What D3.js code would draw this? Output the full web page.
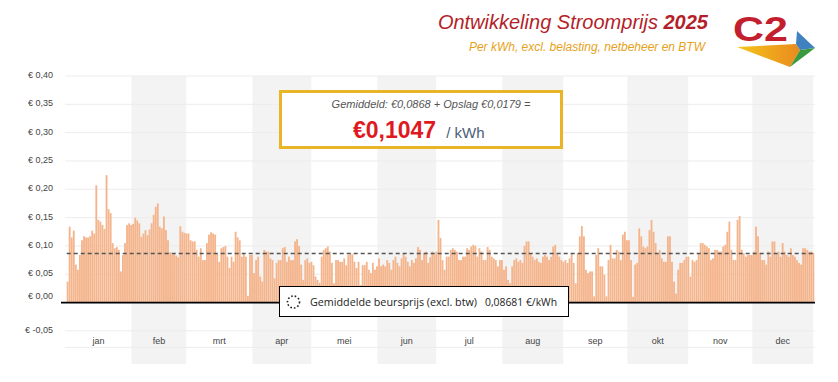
<!DOCTYPE html>
<html>
<head>
<meta charset="utf-8">
<script src="https://cdn.jsdelivr.net/npm/d3@7"></script>
<style>
  body { margin: 0; background: #fff; }
  svg { display: block; font-family: "Liberation Sans", Arial, sans-serif; }
</style>
</head>
<body>
<svg id="chart" width="838" height="382"></svg>
<script>
// *************** DATA (daily price, €/kWh) ***************
const jan = [0.037,0.134,0.115,0.127,0.067,0.058,0.084,0.110,0.117,0.115,0.115,0.117,0.127,0.122,0.207,0.146,0.143,0.137,0.130,0.225,0.165,0.158,0.105,0.096,0.098,0.093,0.055,0.084,0.105,0.137,0.140];
const feb = [0.137,0.139,0.150,0.145,0.140,0.116,0.122,0.128,0.119,0.129,0.140,0.155,0.169,0.175,0.134,0.131,0.152,0.128,0.110,0.089,0.085,0.086,0.083,0.080,0.135,0.125,0.123,0.122];
const mrt = [0.122,0.110,0.108,0.108,0.093,0.081,0.096,0.075,0.075,0.105,0.120,0.124,0.122,0.120,0.087,0.072,0.096,0.098,0.100,0.081,0.061,0.081,0.072,0.125,0.115,0.110,0.081,0.087,0.081,0.012,0.084];
const apr = [0.084,0.052,0.075,0.081,0.046,0.037,0.093,0.090,0.090,0.078,0.075,0.043,0.070,0.075,0.075,0.096,0.098,0.072,0.081,0.075,0.075,0.108,0.112,0.100,0.067,0.040,0.075,0.078,0.070,0.072];
const mei = [0.066,0.046,0.040,0.035,0.081,0.093,0.096,0.099,0.090,0.070,0.034,0.075,0.075,0.072,0.072,0.078,0.066,0.084,0.087,0.085,0.072,0.061,0.072,0.031,0.066,0.066,0.072,0.058,0.052,0.070,0.058];
const jun = [0.064,0.078,0.064,0.067,0.064,0.075,0.070,0.058,0.075,0.081,0.070,0.064,0.078,0.087,0.081,0.072,0.064,0.075,0.070,0.078,0.098,0.093,0.075,0.087,0.090,0.070,0.080,0.090,0.085,0.090];
const jul = [0.146,0.114,0.075,0.058,0.081,0.081,0.093,0.096,0.093,0.090,0.075,0.075,0.081,0.081,0.096,0.093,0.099,0.102,0.100,0.081,0.096,0.090,0.075,0.075,0.098,0.093,0.081,0.078,0.075,0.064,0.075];
const aug = [0.075,0.058,0.064,0.040,0.034,0.064,0.075,0.078,0.072,0.075,0.070,0.100,0.108,0.108,0.087,0.081,0.075,0.078,0.072,0.070,0.081,0.084,0.081,0.075,0.081,0.099,0.102,0.087,0.081,0.075,0.072];
const sep = [0.075,0.070,0.078,0.087,0.070,0.034,0.087,0.117,0.135,0.117,0.058,0.052,0.055,0.055,0.011,0.084,0.096,0.064,0.064,0.049,0.011,0.075,0.102,0.078,0.078,0.093,0.090,0.075,0.120,0.125];
const okt = [0.110,0.110,0.075,0.010,0.067,0.070,0.131,0.117,0.099,0.096,0.099,0.128,0.146,0.125,0.105,0.087,0.093,0.078,0.072,0.072,0.117,0.117,0.072,0.037,0.016,0.058,0.070,0.070,0.075,0.081,0.081];
const nov = [0.046,0.075,0.072,0.075,0.087,0.105,0.105,0.102,0.099,0.096,0.075,0.078,0.093,0.093,0.090,0.090,0.099,0.102,0.125,0.143,0.093,0.075,0.075,0.146,0.153,0.093,0.087,0.081,0.084,0.084];
const dec = [0.084,0.090,0.134,0.117,0.087,0.075,0.075,0.067,0.090,0.081,0.108,0.108,0.087,0.090,0.081,0.105,0.090,0.084,0.081,0.096,0.084,0.081,0.075,0.070,0.067,0.096,0.096,0.093,0.090,0.090,0.088];

const monthLabels = ["jan","feb","mrt","apr","mei","jun","jul","aug","sep","okt","nov","dec"];
const yTicks = [-0.05, 0, 0.05, 0.10, 0.15, 0.20, 0.25, 0.30, 0.35, 0.40];
const avgPrice = 0.08681;

// *************** SETUP ***************
const svg = d3.select("#chart");
const months = [jan, feb, mrt, apr, mei, jun, jul, aug, sep, okt, nov, dec];
const days = months.flatMap((arr, m) => arr.map((v, i) => ({ date: new Date(2025, m, i + 1), value: v })));

const x = d3.scaleTime()
            .domain([new Date(2025, 0, 1), new Date(2026, 0, 1)])
            .range([66.7, 814.5]);

const y = d3.scaleLinear()
            .domain([-0.05, 0.40])
            .range([330.9, 76]);

const fmt = d => "€ " + d.toFixed(2).replace(".", ",");

// month bands
const bands = svg.append("g");
monthLabels.forEach((m, i) => {
  const x0 = x(new Date(2025, i, 1)), x1 = x(new Date(2025, i + 1, 1));
  if (i % 2 === 1) {
    bands.append("rect")
         .attr("x", x0 + 1.3).attr("y", y(0.40))
         .attr("width", x1 - x0 - 2.6).attr("height", 364 - y(0.40))
         .attr("fill", "#f3f3f3");
  }
  bands.append("text")
       .attr("x", (x0 + x1) / 2).attr("y", y(-0.05) + 13)
       .attr("text-anchor", "middle")
       .attr("font-size", 9).attr("fill", "#444")
       .text(m);
});

// gridlines + y labels
const grid = svg.append("g");
grid.selectAll("line")
    .data(yTicks)
    .join("line")
    .attr("x1", 65).attr("x2", 815)
    .attr("y1", d => y(d)).attr("y2", d => y(d))
    .attr("stroke", d => d === 0 ? "none" : "#ececec");
grid.append("line")
    .attr("x1", 65).attr("x2", 815)
    .attr("y1", y(-0.05) + 16.5).attr("y2", y(-0.05) + 16.5)
    .attr("stroke", "#ececec");
grid.selectAll("text")
    .data(yTicks)
    .join("text")
    .attr("x", 53)
    .attr("y", d => y(d) + (d === 0 ? -3.5 : 2))
    .attr("text-anchor", "end")
    .attr("font-size", 9).attr("fill", "#444")
    .text(fmt);

// bars
svg.append("g")
   .selectAll("rect")
   .data(days)
   .join("rect")
   .attr("x", d => x(d.date))
   .attr("width", d => x(d3.timeDay.offset(d.date, 1)) - x(d.date) - 0.2)
   .attr("y", d => y(d.value))
   .attr("height", d => y(0) - y(d.value))
   .attr("fill", "#f4b58d");

// zero line
svg.append("line")
   .attr("x1", 61).attr("x2", 815)
   .attr("y1", y(0)).attr("y2", y(0))
   .attr("stroke", "#000").attr("stroke-width", 1.6);

// average line
svg.append("line")
   .attr("x1", x.range()[0]).attr("x2", x.range()[1])
   .attr("y1", y(avgPrice)).attr("y2", y(avgPrice))
   .attr("stroke", "#555").attr("stroke-width", 1.5)
   .attr("stroke-dasharray", "4,3");

// *************** ANNOTATION BOX ***************
svg.append("rect")
   .attr("x", 280.5).attr("y", 91.5).attr("width", 281).attr("height", 56)
   .attr("fill", "#fff").attr("stroke", "#e9b526").attr("stroke-width", 3);

svg.append("text")
   .attr("x", 431).attr("y", 108)
   .attr("text-anchor", "middle")
   .attr("font-size", 11).attr("font-style", "italic").attr("fill", "#555")
   .text("Gemiddeld: €0,0868 + Opslag €0,0179 =");

const big = svg.append("text").attr("x", 353).attr("y", 138);
big.append("tspan")
   .attr("font-size", 23).attr("font-weight", "bold").attr("fill", "#e0191f")
   .text("€0,1047");
big.append("tspan")
   .attr("dx", 10)
   .attr("font-size", 15).attr("fill", "#4b5d7a")
   .text("/ kWh");

// *************** LEGEND ***************
svg.append("rect")
   .attr("x", 279.5).attr("y", 286.5).attr("width", 289).attr("height", 30)
   .attr("fill", "#fff").attr("stroke", "#000").attr("stroke-width", 1);

svg.append("circle")
   .attr("cx", 293.5).attr("cy", 302).attr("r", 6)
   .attr("fill", "none").attr("stroke", "#222").attr("stroke-width", 1.6)
   .attr("stroke-dasharray", "1.6,2");

svg.append("text")
   .attr("x", 310).attr("y", 306)
   .attr("font-family", "'Open Sans', sans-serif")
   .attr("font-size", 11).attr("fill", "#222")
   .attr("textLength", 167).attr("lengthAdjust", "spacingAndGlyphs")
   .text("Gemiddelde beursprijs (excl. btw)");

svg.append("text")
   .attr("x", 485).attr("y", 306)
   .attr("font-family", "'Open Sans', sans-serif")
   .attr("font-size", 11).attr("fill", "#222")
   .attr("textLength", 72).attr("lengthAdjust", "spacingAndGlyphs")
   .text("0,08681 €/kWh");

// *************** TITLE ***************
const title = svg.append("text")
   .attr("x", 708).attr("y", 29)
   .attr("text-anchor", "end")
   .attr("font-size", 20).attr("font-style", "italic").attr("fill", "#b31f2b");
title.append("tspan").text("Ontwikkeling Stroomprijs ");
title.append("tspan").attr("font-weight", "bold").text("2025");

svg.append("text")
   .attr("x", 705).attr("y", 51)
   .attr("text-anchor", "end")
   .attr("font-size", 12).attr("font-style", "italic").attr("fill", "#e6a21a")
   .text("Per kWh, excl. belasting, netbeheer en BTW");

// *************** LOGO ***************
const logo = svg.append("g");
const grad = svg.append("defs").append("linearGradient")
   .attr("id", "logoGrad").attr("x1", "0%").attr("x2", "100%");
grad.append("stop").attr("offset", "0%").attr("stop-color", "#f4c51a");
grad.append("stop").attr("offset", "100%").attr("stop-color", "#e98a1f");

logo.append("polygon")
    .attr("points", "737,47 796,44 800,50 790,67")
    .attr("fill", "url(#logoGrad)");
logo.append("polygon")
    .attr("points", "797,31 815,48 800,50 796,44")
    .attr("fill", "#3f82bf");
logo.append("polygon")
    .attr("points", "800,50 815,48 790,67")
    .attr("fill", "#3a9a3f");
logo.append("text")
    .attr("x", 733).attr("y", 41)
    .attr("font-size", 35).attr("font-weight", "bold").attr("fill", "#c41f2e")
    .attr("textLength", 55).attr("lengthAdjust", "spacingAndGlyphs")
    .text("C2");
</script>
</body>
</html>
